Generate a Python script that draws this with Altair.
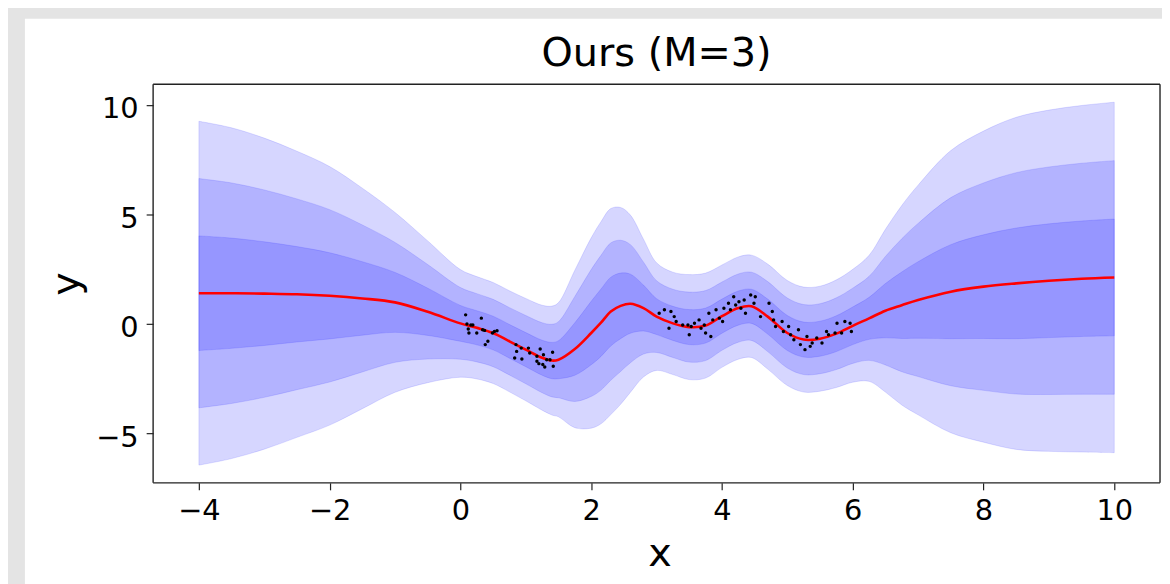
import altair as alt
import pandas as pd

# ---- data ----
X_GRID = [-4.0, -3.5, -3.0, -2.5, -2.0, -1.5, -1.0, -0.5, 0.0, 0.25, 0.5, 0.75,
          1.0, 1.25, 1.4, 1.5, 1.75, 2.0, 2.15, 2.3, 2.45, 2.6, 2.8, 3.0,
          3.25, 3.5, 3.75, 4.0, 4.25, 4.45, 4.7, 5.0, 5.25, 5.5, 5.75, 6.0,
          6.25, 6.5, 6.75, 7.0, 7.5, 8.0, 8.5, 9.0, 9.5, 10.0]
MEAN = [1.40, 1.40, 1.38, 1.35, 1.28, 1.16, 0.98, 0.55, 0.02, -0.18, -0.42, -0.80,
        -1.18, -1.55, -1.68, -1.64, -1.15, -0.42, 0.05, 0.56, 0.82, 0.92, 0.72, 0.33,
        0.02, -0.15, -0.08, 0.35, 0.72, 0.80, 0.33, -0.42, -0.72, -0.68, -0.45, -0.09,
        0.25, 0.60, 0.85, 1.09, 1.47, 1.70, 1.85, 1.97, 2.06, 2.12]
STD = [2.62, 2.52, 2.37, 2.18, 1.97, 1.68, 1.37, 1.08, 0.82, 0.78, 0.77, 0.77,
       0.78, 0.80, 0.83, 0.87, 1.20, 1.45, 1.54, 1.57, 1.50, 1.35, 1.05, 0.82,
       0.78, 0.80, 0.80, 0.78, 0.78, 0.78, 0.80, 0.80, 0.80, 0.80, 0.82, 0.86,
       0.96, 1.24, 1.52, 1.75, 2.15, 2.37, 2.53, 2.60, 2.64, 2.67]
OBS_X = [0.08, 0.32, 0.10, 0.16, 0.19, 0.12, 0.13, 0.25, 0.34, 0.37, 0.49, 0.52,
         0.56, 0.42, 0.38, 0.85, 0.93, 0.86, 1.04, 0.83, 0.94, 1.06, 1.17, 1.22,
         1.27, 1.41, 1.17, 1.20, 1.26, 1.29, 1.42, 1.37, 1.32,
         3.04, 3.12, 3.22, 3.27, 3.30, 3.19, 3.40, 3.48, 3.50, 3.53, 3.58, 3.65,
         3.68, 3.73, 3.75, 3.80, 3.83, 3.86, 3.91, 3.96, 4.01, 4.03, 4.10, 4.13,
         4.18, 4.21, 4.26, 4.29, 4.34, 4.36, 4.44, 4.49, 4.51, 4.59, 4.72, 4.77,
         4.79, 4.82, 4.92, 4.94, 5.02, 5.05, 5.10, 5.17, 5.20, 5.27, 5.30, 5.35,
         5.38, 5.45, 5.53, 5.60, 5.63, 5.73, 5.76, 5.83, 5.88, 5.96, 5.98]
OBS_Y = [0.41, 0.26, -0.01, -0.05, -0.05, -0.24, -0.42, -0.42, -0.27, -0.30, -0.42, -0.35,
         -0.32, -0.80, -0.95, -0.95, -1.11, -1.26, -1.11, -1.56, -1.61, -1.33, -1.48, -1.15,
         -1.41, -1.30, -1.71, -1.82, -1.86, -1.97, -1.94, -1.64, -1.64,
         0.48, 0.64, 0.56, 0.33, 0.11, -0.20, -0.05, -0.05, -0.50, -0.12, 0.03, 0.18,
         -0.20, -0.05, -0.42, 0.48, -0.58, 0.18, 0.64, 0.26, 0.11, 0.71, 0.94, 0.64,
         1.24, 0.86, 1.01, 0.71, 1.09, 0.48, 1.32, 0.94, 1.24, 0.33, 0.94, 0.56,
         0.18, -0.12, 0.11, -0.35, -0.12, -0.50, -0.73, -0.27, -0.95, -1.18, -0.58, -1.03,
         -0.88, -0.65, -0.88, -0.35, -0.50, -0.42, 0.03, -0.42, 0.11, 0.03, -0.35]
BAND_K = [3, 2, 1]
X_TICKS = [-4, -2, 0, 2, 4, 6, 8, 10]
Y_TICKS = [-5, 0, 5, 10]
X_DOMAIN = [-4.7, 10.7]
Y_DOMAIN = [-7.27, 10.95]
TITLE = "Ours (M=3)"

# ---- tables ----
band_rows = []
for k in BAND_K:
    for x, m, s in zip(X_GRID, MEAN, STD):
        band_rows.append({"x": x, "lo": m - k * s, "hi": m + k * s, "band": f"{k} sigma"})
bands = pd.DataFrame(band_rows)
mean_df = pd.DataFrame({"x": X_GRID, "mean": MEAN})
obs_df = pd.DataFrame({"x": OBS_X, "y": OBS_Y})
frame_df = pd.DataFrame({"x": [0]})

W, H = 1013, 401
FONT = "DejaVu Sans"
INTERP = "catmull-rom"

xs = alt.Scale(domain=X_DOMAIN, nice=False, zero=False)
ys = alt.Scale(domain=Y_DOMAIN, nice=False, zero=False)

x_axis = alt.Axis(values=X_TICKS, format="d", title="x", grid=False, domain=False,
                  tickSize=7, tickWidth=1.2, tickColor="#222",
                  labelFontSize=29, labelFont=FONT, labelColor="#000",
                  labelBaseline="alphabetic", labelPadding=30, labelFlush=False,
                  titleFontSize=40, titleFont=FONT, titleFontWeight="normal",
                  titleColor="#000", titleBaseline="alphabetic", titleY=83,
                  titleX=W / 2 + 3, titleAlign="center", zindex=1)
y_axis = alt.Axis(values=Y_TICKS, format="d", title="y", grid=False, domain=False,
                  tickSize=7, tickWidth=1.2, tickColor="#222",
                  labelFontSize=29, labelFont=FONT, labelColor="#000",
                  labelBaseline="alphabetic", labelOffset=13, labelPadding=8,
                  labelAlign="right", labelFlush=False,
                  titleFontSize=40, titleFont=FONT, titleFontWeight="normal",
                  titleColor="#000", titleBaseline="alphabetic", titleAngle=270,
                  titleX=-75, titleY=H / 2, titleAlign="center", zindex=1)

panel = alt.Chart(frame_df).mark_rect(color="white", clip=False).encode(
    x=alt.value(-129), x2=alt.value(1030), y=alt.value(-66), y2=alt.value(520)
)

areas = alt.Chart(bands).mark_area(
    fill="#0000ff", fillOpacity=0.16, stroke="#0000ff", strokeOpacity=0.12,
    strokeWidth=1, interpolate=INTERP
).encode(
    x=alt.X("x:Q", scale=xs, axis=x_axis),
    y=alt.Y("hi:Q", scale=ys, axis=y_axis),
    y2="lo:Q",
    detail="band:N",
)

line = alt.Chart(mean_df).mark_line(color="#ff0000", strokeWidth=2.6,
                                     interpolate=INTERP).encode(
    x=alt.X("x:Q", scale=xs), y=alt.Y("mean:Q", scale=ys)
)

dots = alt.Chart(obs_df).mark_circle(color="#000000", size=12, opacity=1).encode(
    x=alt.X("x:Q", scale=xs), y=alt.Y("y:Q", scale=ys)
)

frame_color = "#222"
top_rule = alt.Chart(frame_df).mark_rule(color=frame_color, strokeWidth=1.4).encode(
    x=alt.datum(X_DOMAIN[0]), x2=alt.datum(X_DOMAIN[1]), y=alt.datum(Y_DOMAIN[1]))
bot_rule = alt.Chart(frame_df).mark_rule(color=frame_color, strokeWidth=1.4).encode(
    x=alt.datum(X_DOMAIN[0]), x2=alt.datum(X_DOMAIN[1]), y=alt.datum(Y_DOMAIN[0]))
left_rule = alt.Chart(frame_df).mark_rule(color=frame_color, strokeWidth=1.4).encode(
    y=alt.datum(Y_DOMAIN[0]), y2=alt.datum(Y_DOMAIN[1]), x=alt.datum(X_DOMAIN[0]))
right_rule = alt.Chart(frame_df).mark_rule(color=frame_color, strokeWidth=1.4).encode(
    y=alt.datum(Y_DOMAIN[0]), y2=alt.datum(Y_DOMAIN[1]), x=alt.datum(X_DOMAIN[1]))

chart = alt.layer(
    panel, areas, line, dots, top_rule, bot_rule, left_rule, right_rule
).properties(
    width=W, height=H,
    background="#e4e4e4",
    padding={"left": 146, "top": 75, "right": 2, "bottom": 100},
    autosize=alt.AutoSizeParams(type="none"),
    title=alt.TitleParams(TITLE, font=FONT, fontSize=40, fontWeight="normal",
                          color="#000", anchor="middle", frame="group",
                          baseline="alphabetic", offset=14, dy=102),
).configure_view(stroke=None)

chart.save("out.html", embed_options={"renderer": "svg", "actions": False})
